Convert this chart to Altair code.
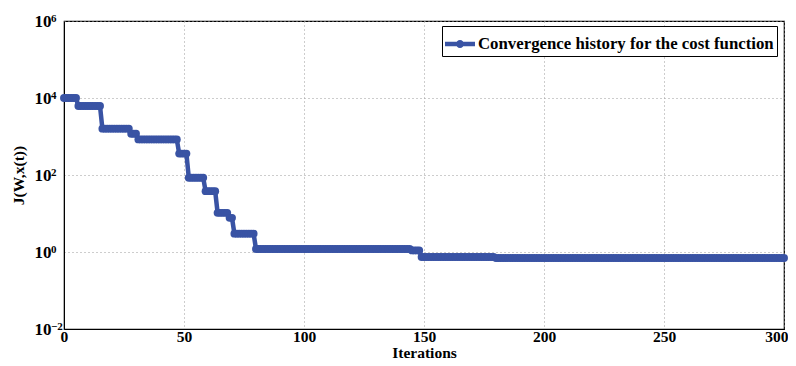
import altair as alt
import pandas as pd

# step segments: first iteration of each step and its cost value
step_start = [0, 6, 16, 28, 31, 48, 52, 59, 64, 69, 71, 80, 145, 149, 180]
step_value = [1.0e4, 6.2e3, 1.6e3, 1.18e3, 8.4e2, 3.6e2, 85, 38, 10.4, 7.7, 3.0, 1.2, 1.1, 0.74, 0.70]
last_iter = 300

x_ticks = [0, 50, 100, 150, 200, 250, 300]
y_ticks = [1e-2, 1e0, 1e2, 1e4, 1e6]
y_exponents = ["−2", "0", "2", "4", "6"]
series_name = "Convergence history for the cost function"

rows = []
for k, s in enumerate(step_start):
    e = step_start[k + 1] - 1 if k + 1 < len(step_start) else last_iter
    for i in range(s, e + 1):
        rows.append({"iter": i, "cost": step_value[k], "series": series_name})
df = pd.DataFrame(rows)
exp_df = pd.DataFrame({"iter": [0] * len(y_ticks), "cost": y_ticks, "exp": y_exponents})

blue = "#3953a4"
font = "Liberation Serif"

legend_path = ("M-1,-0.15H-0.2V0.15H-1Z M0.2,-0.15H1V0.15H0.2Z "
               "M-0.27,0A0.27,0.27 0 1,1 0.27,0A0.27,0.27 0 1,1 -0.27,0Z")

x_scale = alt.Scale(domain=[0, 300], nice=False)
y_scale = alt.Scale(type="log", domain=[1e-2, 1e6], nice=False)

line = alt.Chart(df).mark_line(
    strokeWidth=4.5, color=blue,
    point=alt.OverlayMarkDef(filled=True, size=62, color=blue, opacity=1)
).encode(
    x=alt.X("iter:Q", scale=x_scale,
            axis=alt.Axis(values=x_ticks, title="Iterations", grid=True,
                          gridDash=[1, 3], gridColor="#9a9a9a", gridOpacity=1,
                          labelFont=font, labelFontWeight="bold", labelFontSize=15.5,
                          labelColor="black", titleFont=font, titleFontWeight="bold",
                          titleFontSize=15.5, titleColor="black", titlePadding=1,
                          domainColor="black", tickSize=0, labelPadding=0,
                          labelFlush=True, labelFlushOffset=4)),
    y=alt.Y("cost:Q", scale=y_scale,
            axis=alt.Axis(values=y_ticks, title="J(W,x(t))", grid=True,
                          gridDash=[1, 3], gridColor="#9a9a9a", gridOpacity=1,
                          labelExpr="'10'",
                          labelFont=font, labelFontWeight="bold", labelFontSize=17,
                          labelColor="black", titleFont=font, titleFontWeight="bold",
                          titleFontSize=15.5, titleColor="black", titlePadding=8,
                          domainColor="black", tickSize=0, labelPadding=13)),
    color=alt.Color("series:N", scale=alt.Scale(domain=[series_name], range=[blue]),
                    legend=alt.Legend(title=None, orient="none", legendX=378, legendY=5,
                                      symbolType=legend_path, symbolSize=900,
                                      symbolStrokeWidth=0, symbolFillColor=blue,
                                      labelFont=font, labelFontWeight="bold",
                                      labelFontSize=16.8, labelColor="black",
                                      strokeColor="black", fillColor="white",
                                      padding=3, labelLimit=400, labelOffset=3)),
)

exps = alt.Chart(exp_df).mark_text(
    font=font, fontWeight="bold", fontSize=11, align="left", baseline="top",
    dx=-13, dy=-8, color="black"
).encode(
    x=alt.X("iter:Q", scale=x_scale),
    y=alt.Y("cost:Q", scale=y_scale),
    text="exp:N",
)

chart = alt.layer(line, exps).properties(
    width=720, height=308,
    autosize=alt.AutoSizeParams(type="none"),
    padding={"left": 56, "top": 13, "right": 4, "bottom": 36},
).configure_view(stroke="black", strokeWidth=1.2)

chart.save("out.html", embed_options={"renderer": "svg", "actions": False})
